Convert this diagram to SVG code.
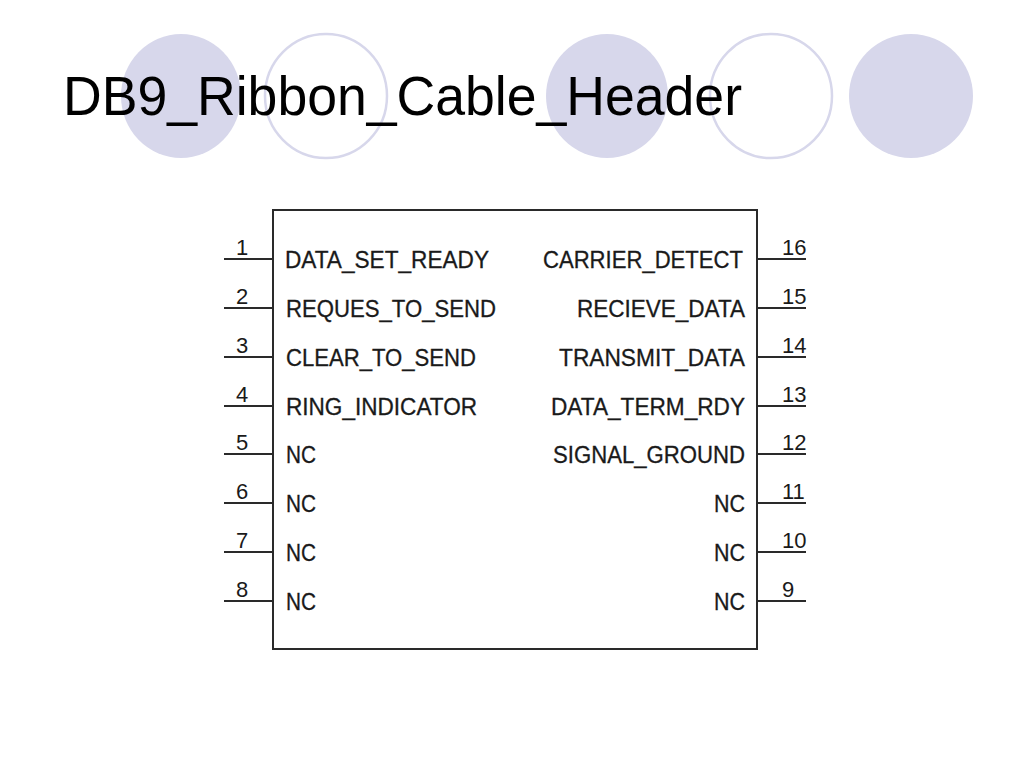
<svg xmlns="http://www.w3.org/2000/svg" width="1024" height="768" viewBox="0 0 1024 768">
<style>
.bg{fill:#ffffff}
.dot{fill:#d7d7eb;stroke:none}
.ring{fill:none;stroke:#d7d7eb;stroke-width:2.5}
.title{font-family:"Liberation Sans",Arial,sans-serif;font-size:56px;fill:#000}
.box{fill:none;stroke:#2a2a2a;stroke-width:2}
.lead{stroke:#2a2a2a;stroke-width:2}
.lbl{font-family:"Liberation Sans",Arial,sans-serif;font-size:23px;fill:#1a1a1a;stroke:#1a1a1a;stroke-width:0.3}
.num{font-family:"Liberation Sans",Arial,sans-serif;font-size:22px;fill:#1a1a1a}
.l{text-anchor:start}
.r{text-anchor:end}
.nl{text-anchor:middle}
</style>
<rect class="bg" x="0" y="0" width="1024" height="768"/>
<g id="decor">
<ellipse class="dot" cx="181" cy="96" rx="60" ry="62"/>
<ellipse class="ring" cx="326" cy="96" rx="61" ry="62"/>
<ellipse class="dot" cx="607" cy="96" rx="61" ry="62"/>
<ellipse class="ring" cx="771" cy="96" rx="61" ry="62"/>
<ellipse class="dot" cx="911" cy="96" rx="62" ry="62"/>
</g>
<text id="title" class="title" x="63" y="115" textLength="679" lengthAdjust="spacingAndGlyphs">DB9_Ribbon_Cable_Header</text>
<g id="header">
<rect class="box" x="273" y="210" width="484" height="439"/>
</g>
<g id="connectors">
<line class="lead" x1="224" y1="259" x2="273" y2="259"/>
<line class="lead" x1="224" y1="308" x2="273" y2="308"/>
<line class="lead" x1="224" y1="357" x2="273" y2="357"/>
<line class="lead" x1="224" y1="406" x2="273" y2="406"/>
<line class="lead" x1="224" y1="454" x2="273" y2="454"/>
<line class="lead" x1="224" y1="503" x2="273" y2="503"/>
<line class="lead" x1="224" y1="552" x2="273" y2="552"/>
<line class="lead" x1="224" y1="601" x2="273" y2="601"/>
<line class="lead" x1="757" y1="259" x2="806" y2="259"/>
<line class="lead" x1="757" y1="308" x2="806" y2="308"/>
<line class="lead" x1="757" y1="357" x2="806" y2="357"/>
<line class="lead" x1="757" y1="406" x2="806" y2="406"/>
<line class="lead" x1="757" y1="454" x2="806" y2="454"/>
<line class="lead" x1="757" y1="503" x2="806" y2="503"/>
<line class="lead" x1="757" y1="552" x2="806" y2="552"/>
<line class="lead" x1="757" y1="601" x2="806" y2="601"/>
</g>
<g id="pin1"><text class="num nl" x="242" y="255">1</text><text class="lbl l" x="285" y="268" textLength="204" lengthAdjust="spacingAndGlyphs">DATA_SET_READY</text></g>
<g id="pin2"><text class="num nl" x="242" y="304">2</text><text class="lbl l" x="286" y="317" textLength="210" lengthAdjust="spacingAndGlyphs">REQUES_TO_SEND</text></g>
<g id="pin3"><text class="num nl" x="242" y="353">3</text><text class="lbl l" x="286" y="366" textLength="190" lengthAdjust="spacingAndGlyphs">CLEAR_TO_SEND</text></g>
<g id="pin4"><text class="num nl" x="242" y="402">4</text><text class="lbl l" x="286" y="415" textLength="191" lengthAdjust="spacingAndGlyphs">RING_INDICATOR</text></g>
<g id="pin5"><text class="num nl" x="242" y="450">5</text><text class="lbl l" x="286" y="463" textLength="30" lengthAdjust="spacingAndGlyphs">NC</text></g>
<g id="pin6"><text class="num nl" x="242" y="499">6</text><text class="lbl l" x="286" y="512" textLength="30" lengthAdjust="spacingAndGlyphs">NC</text></g>
<g id="pin7"><text class="num nl" x="242" y="548">7</text><text class="lbl l" x="286" y="561" textLength="30" lengthAdjust="spacingAndGlyphs">NC</text></g>
<g id="pin8"><text class="num nl" x="242" y="597">8</text><text class="lbl l" x="286" y="610" textLength="30" lengthAdjust="spacingAndGlyphs">NC</text></g>
<g id="pin16"><text class="num l" x="782" y="255">16</text><text class="lbl r" x="743" y="268" textLength="200" lengthAdjust="spacingAndGlyphs">CARRIER_DETECT</text></g>
<g id="pin15"><text class="num l" x="782" y="304">15</text><text class="lbl r" x="745" y="317" textLength="168" lengthAdjust="spacingAndGlyphs">RECIEVE_DATA</text></g>
<g id="pin14"><text class="num l" x="782" y="353">14</text><text class="lbl r" x="745" y="366" textLength="186" lengthAdjust="spacingAndGlyphs">TRANSMIT_DATA</text></g>
<g id="pin13"><text class="num l" x="782" y="402">13</text><text class="lbl r" x="745" y="415" textLength="194" lengthAdjust="spacingAndGlyphs">DATA_TERM_RDY</text></g>
<g id="pin12"><text class="num l" x="782" y="450">12</text><text class="lbl r" x="745" y="463" textLength="192" lengthAdjust="spacingAndGlyphs">SIGNAL_GROUND</text></g>
<g id="pin11"><text class="num l" x="782" y="499">11</text><text class="lbl r" x="745" y="512" textLength="31" lengthAdjust="spacingAndGlyphs">NC</text></g>
<g id="pin10"><text class="num l" x="782" y="548">10</text><text class="lbl r" x="745" y="561" textLength="31" lengthAdjust="spacingAndGlyphs">NC</text></g>
<g id="pin9"><text class="num l" x="782" y="597">9</text><text class="lbl r" x="745" y="610" textLength="31" lengthAdjust="spacingAndGlyphs">NC</text></g>
</svg>
